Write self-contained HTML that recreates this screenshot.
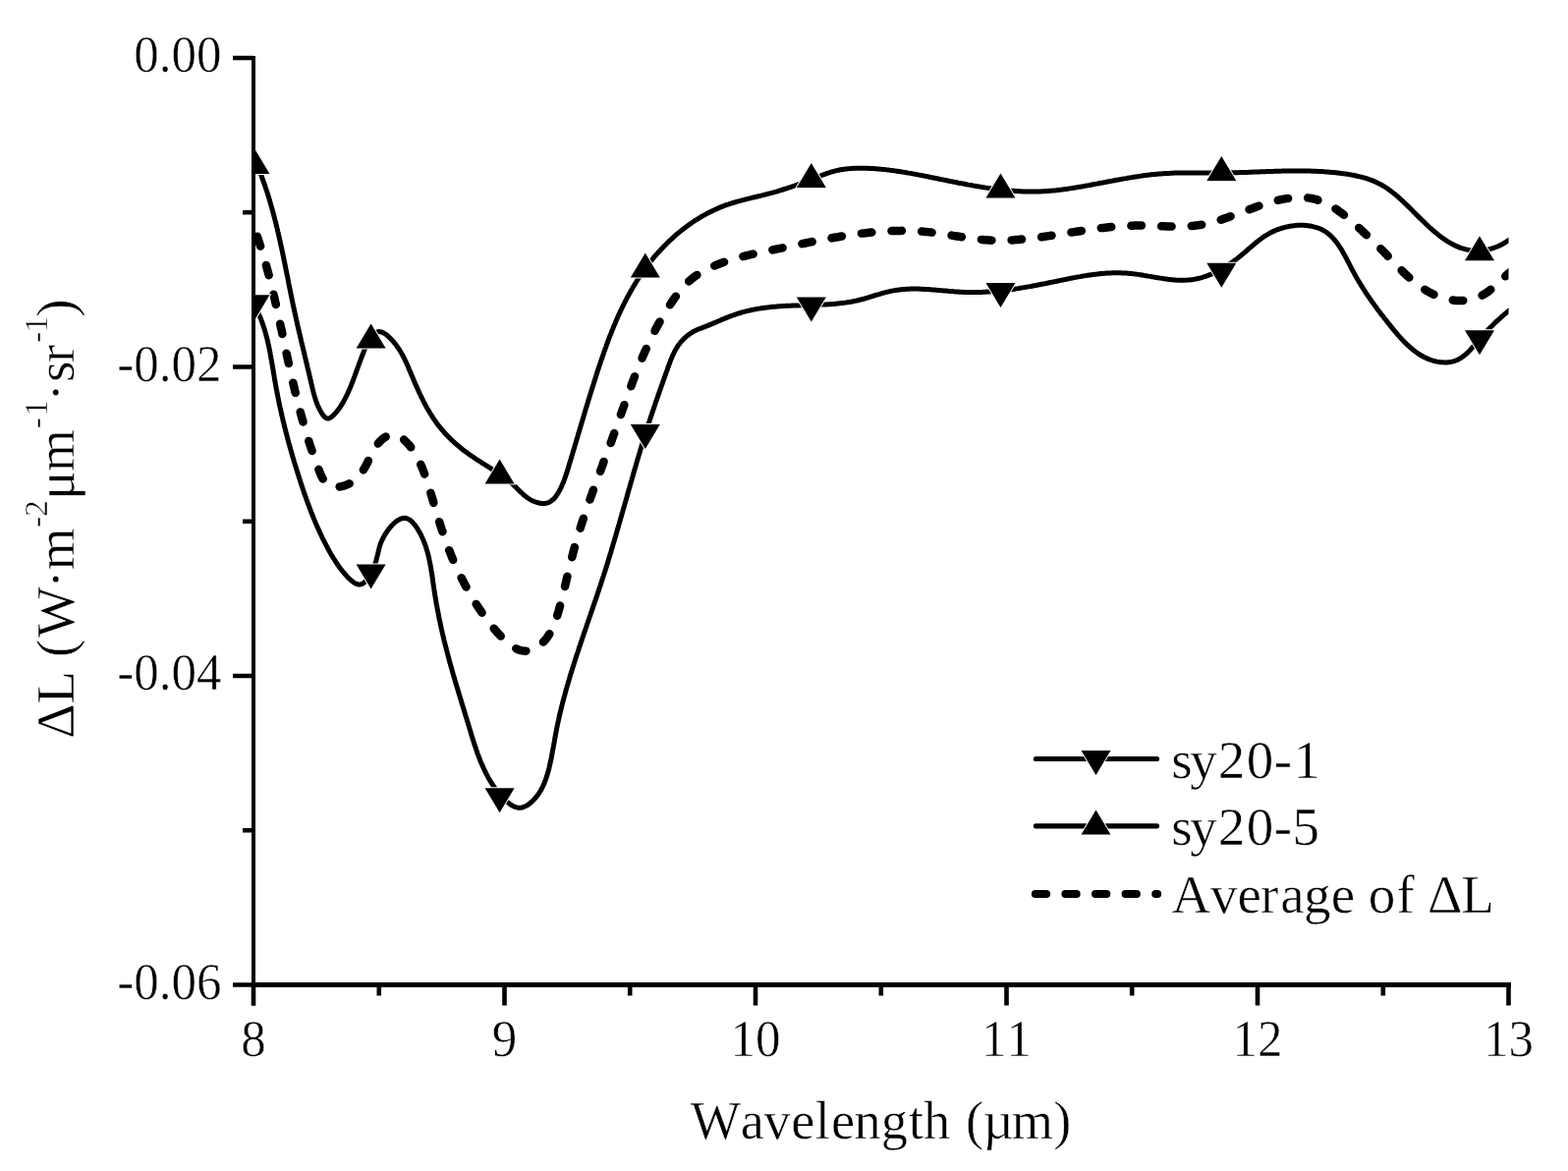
<!DOCTYPE html>
<html><head><meta charset="utf-8"><style>
html,body{margin:0;padding:0;background:#fff;}
body{width:1596px;height:1192px;overflow:hidden;}
svg{display:block;}
text{font-family:"Liberation Serif","Times New Roman",serif;fill:#000;font-kerning:none;stroke:#fff;stroke-width:0.5px;paint-order:fill;}
</style></head><body>
<svg width="1596" height="1192" viewBox="0 0 1596 1192">
<rect width="1596" height="1192" fill="#fff"/>
<defs><clipPath id="pc"><rect x="258" y="0" width="1277.5" height="1192"/></clipPath></defs>
<g clip-path="url(#pc)">
<path d="M258.2,160.0L259.0,161.8L259.8,163.6L260.6,165.5L261.4,167.3L262.2,169.1L262.9,171.0L263.7,172.8L264.4,174.7L265.1,176.6L265.9,178.4L266.6,180.3L267.2,182.2L267.9,184.0L268.6,185.9L269.3,187.8L269.9,189.7L270.5,191.6L271.2,193.5L271.8,195.3L272.4,197.2L273.0,199.1L273.6,201.1L274.2,203.0L274.7,204.9L275.3,206.8L275.8,208.7L276.4,210.6L276.9,212.5L277.5,214.5L278.0,216.4L278.5,218.3L279.0,220.3L279.5,222.2L280.0,224.1L280.5,226.1L281.0,228.0L281.4,229.9L281.9,231.9L282.4,233.8L282.8,235.8L283.3,237.7L283.7,239.7L284.2,241.6L284.6,243.6L285.1,245.5L285.5,247.5L285.9,249.4L286.3,251.4L286.8,253.4L287.2,255.3L287.6,257.3L288.0,259.2L288.4,261.2L288.8,263.2L289.2,265.1L289.6,267.1L290.0,269.1L290.4,271.0L290.8,273.0L291.2,274.9L291.6,276.9L292.0,278.9L292.4,280.8L292.8,282.8L293.2,284.8L293.6,286.7L293.9,288.7L294.3,290.7L294.7,292.6L295.1,294.6L295.5,296.5L295.9,298.5L296.3,300.5L296.7,302.4L297.1,304.4L297.5,306.3L297.9,308.3L298.3,310.2L298.7,312.2L299.2,314.1L299.6,316.1L300.0,318.0L300.4,320.0L300.9,321.9L301.3,323.9L301.7,325.8L302.2,327.7L302.6,329.7L303.0,331.6L303.5,333.6L303.9,335.5L304.4,337.4L304.8,339.4L305.3,341.3L305.7,343.2L306.2,345.2L306.6,347.1L307.1,349.1L307.6,351.0L308.0,352.9L308.5,354.9L309.0,356.8L309.4,358.7L309.9,360.7L310.3,362.6L310.8,364.6L311.3,366.5L311.7,368.5L312.2,370.4L312.7,372.4L313.1,374.3L313.6,376.3L314.1,378.3L314.5,380.2L315.0,382.2L315.4,384.2L315.9,386.1L316.4,388.1L316.8,390.1L317.3,392.1L317.7,394.0L318.2,396.0L318.7,398.0L319.2,400.0L319.7,401.9L320.3,403.9L320.9,405.8L321.5,407.8L322.2,409.7L322.9,411.6L323.7,413.4L324.6,415.3L325.5,417.1L326.5,418.9L327.5,420.7L328.7,422.4L329.9,423.9L331.2,425.1L332.6,425.9L334.0,426.1L335.4,425.7L336.8,424.9L338.2,423.8L339.6,422.5L340.9,421.1L342.2,419.7L343.5,418.1L344.7,416.5L345.9,414.9L347.0,413.2L348.1,411.4L349.2,409.6L350.2,407.8L351.2,405.9L352.1,404.1L353.1,402.2L354.0,400.2L354.8,398.3L355.7,396.4L356.5,394.5L357.3,392.6L358.0,390.7L358.7,388.8L359.5,387.0L360.1,385.2L360.8,383.4L361.4,381.7L362.1,379.9L362.7,378.2L363.3,376.5L364.0,374.7L364.6,373.0L365.2,371.2L365.9,369.4L366.6,367.5L367.3,365.7L368.0,363.7L368.8,361.7L369.6,359.7L370.4,357.6L371.3,355.4L372.2,353.3L373.1,351.2L374.1,349.1L375.2,347.1L376.3,345.2L377.4,343.5L378.6,341.9L379.8,340.6L381.1,339.4L382.4,338.5L383.8,337.9L385.2,337.6L386.7,337.7L388.3,338.0L389.8,338.6L391.4,339.5L393.0,340.5L394.5,341.8L396.1,343.2L397.6,344.7L399.1,346.3L400.5,347.9L401.9,349.6L403.2,351.3L404.4,353.0L405.6,354.7L406.7,356.4L407.8,358.1L408.8,359.9L409.8,361.6L410.7,363.4L411.6,365.1L412.4,366.9L413.3,368.7L414.1,370.5L414.9,372.3L415.7,374.1L416.4,375.9L417.2,377.7L418.0,379.5L418.7,381.3L419.5,383.2L420.3,385.0L421.0,386.8L421.8,388.7L422.6,390.5L423.4,392.3L424.2,394.2L425.1,396.0L425.9,397.9L426.7,399.7L427.6,401.5L428.5,403.3L429.4,405.1L430.3,407.0L431.2,408.8L432.1,410.5L433.0,412.3L434.0,414.1L435.0,415.9L436.0,417.6L437.0,419.3L438.0,421.0L439.1,422.7L440.2,424.4L441.3,426.1L442.4,427.7L443.6,429.4L444.7,431.0L445.9,432.6L447.1,434.1L448.4,435.7L449.6,437.2L450.9,438.7L452.2,440.2L453.6,441.7L454.9,443.1L456.3,444.5L457.7,445.9L459.1,447.3L460.6,448.7L462.0,450.0L463.5,451.3L465.0,452.7L466.5,453.9L468.0,455.2L469.6,456.5L471.1,457.7L472.7,458.9L474.3,460.1L475.9,461.3L477.5,462.5L479.2,463.6L480.8,464.7L482.5,465.9L484.1,467.0L485.8,468.1L487.5,469.2L489.2,470.2L490.9,471.3L492.6,472.4L494.3,473.5L496.0,474.5L497.7,475.6L499.4,476.7L501.1,477.8L502.8,478.8L504.4,479.9L506.1,481.0L507.8,482.2L509.4,483.3L511.0,484.4L512.6,485.6L514.2,486.8L515.8,487.9L517.3,489.2L518.9,490.4L520.4,491.7L521.9,492.9L523.3,494.3L524.7,495.6L526.1,497.0L527.5,498.4L528.9,499.8L530.3,501.1L531.8,502.5L533.2,503.8L534.8,505.1L536.4,506.4L538.1,507.5L539.8,508.6L541.7,509.6L543.7,510.5L545.7,511.2L547.8,511.8L549.8,512.3L551.8,512.5L553.8,512.5L555.7,512.3L557.5,511.9L559.2,511.2L560.8,510.2L562.3,509.1L563.7,507.8L565.0,506.3L566.2,504.7L567.3,503.0L568.4,501.2L569.4,499.4L570.4,497.6L571.3,495.8L572.1,493.9L572.9,492.1L573.7,490.2L574.4,488.3L575.1,486.4L575.7,484.5L576.4,482.7L577.0,480.8L577.6,478.9L578.2,477.0L578.8,475.1L579.3,473.1L579.9,471.2L580.5,469.3L581.1,467.4L581.6,465.5L582.2,463.6L582.8,461.7L583.3,459.8L583.9,457.9L584.5,456.0L585.0,454.1L585.6,452.1L586.2,450.2L586.7,448.3L587.3,446.4L587.9,444.5L588.4,442.6L589.0,440.7L589.6,438.8L590.1,436.8L590.7,434.9L591.3,433.0L591.8,431.1L592.4,429.2L593.0,427.3L593.6,425.4L594.1,423.4L594.7,421.5L595.3,419.6L595.8,417.7L596.4,415.8L597.0,413.9L597.6,412.0L598.2,410.1L598.7,408.2L599.3,406.2L599.9,404.3L600.5,402.4L601.1,400.5L601.7,398.6L602.3,396.7L602.9,394.8L603.5,392.9L604.1,391.0L604.7,389.1L605.3,387.2L605.9,385.3L606.5,383.4L607.1,381.4L607.7,379.5L608.3,377.6L609.0,375.7L609.6,373.8L610.2,371.9L610.9,370.0L611.5,368.1L612.1,366.3L612.8,364.4L613.4,362.5L614.1,360.6L614.7,358.7L615.4,356.8L616.1,354.9L616.8,353.0L617.4,351.2L618.1,349.3L618.8,347.4L619.5,345.5L620.2,343.7L620.9,341.8L621.7,339.9L622.4,338.1L623.1,336.2L623.9,334.4L624.6,332.5L625.4,330.7L626.2,328.9L626.9,327.0L627.7,325.2L628.5,323.4L629.3,321.6L630.1,319.8L631.0,317.9L631.8,316.1L632.7,314.3L633.5,312.6L634.4,310.8L635.3,309.0L636.2,307.2L637.1,305.5L638.0,303.7L638.9,301.9L639.9,300.2L640.8,298.5L641.8,296.7L642.8,295.0L643.8,293.3L644.8,291.6L645.8,289.9L646.8,288.2L647.9,286.5L648.9,284.8L650.0,283.1L651.1,281.5L652.2,279.8L653.3,278.2L654.5,276.5L655.6,274.9L656.8,273.3L658.0,271.7L659.2,270.1L660.4,268.5L661.6,266.9L662.9,265.3L664.2,263.8L665.4,262.2L666.7,260.7L668.1,259.2L669.4,257.7L670.7,256.2L672.1,254.7L673.5,253.2L674.9,251.7L676.3,250.3L677.7,248.9L679.1,247.4L680.6,246.0L682.0,244.6L683.5,243.3L685.0,241.9L686.5,240.6L688.0,239.2L689.5,237.9L691.1,236.6L692.6,235.4L694.2,234.1L695.8,232.9L697.4,231.7L699.0,230.5L700.6,229.3L702.3,228.1L703.9,227.0L705.6,225.8L707.2,224.7L708.9,223.7L710.6,222.6L712.3,221.6L714.0,220.5L715.8,219.5L717.5,218.6L719.2,217.6L721.0,216.7L722.8,215.8L724.6,214.9L726.4,214.0L728.2,213.2L730.0,212.4L731.8,211.6L733.6,210.8L735.5,210.1L737.3,209.4L739.2,208.7L741.1,208.1L743.0,207.4L744.9,206.8L746.7,206.2L748.7,205.7L750.6,205.1L752.5,204.6L754.4,204.1L756.3,203.6L758.3,203.1L760.2,202.6L762.1,202.1L764.1,201.7L766.0,201.2L768.0,200.7L769.9,200.3L771.9,199.8L773.8,199.4L775.7,198.9L777.7,198.4L779.6,197.9L781.5,197.4L783.5,196.9L785.4,196.4L787.3,195.8L789.2,195.3L791.1,194.8L793.0,194.2L794.9,193.6L796.8,193.0L798.7,192.4L800.6,191.8L802.5,191.2L804.4,190.6L806.3,189.9L808.2,189.3L810.1,188.6L812.0,188.0L813.8,187.3L815.7,186.6L817.6,185.9L819.5,185.2L821.4,184.5L823.2,183.7L825.1,183.0L827.0,182.3L828.8,181.5L830.7,180.8L832.6,180.0L834.4,179.3L836.3,178.5L838.2,177.8L840.1,177.1L842.0,176.4L843.9,175.8L845.8,175.2L847.7,174.6L849.6,174.1L851.5,173.6L853.5,173.2L855.4,172.8L857.4,172.5L859.3,172.2L861.3,171.9L863.3,171.7L865.2,171.6L867.2,171.4L869.2,171.3L871.2,171.2L873.2,171.2L875.2,171.2L877.2,171.2L879.2,171.2L881.2,171.2L883.2,171.3L885.1,171.4L887.1,171.5L889.1,171.6L891.1,171.7L893.1,171.9L895.1,172.1L897.0,172.2L899.0,172.4L901.0,172.6L903.0,172.9L904.9,173.1L906.9,173.4L908.9,173.6L910.8,173.9L912.8,174.2L914.8,174.5L916.7,174.8L918.7,175.1L920.7,175.4L922.6,175.7L924.6,176.1L926.6,176.4L928.5,176.8L930.5,177.1L932.5,177.5L934.4,177.9L936.4,178.2L938.4,178.6L940.3,179.0L942.3,179.4L944.2,179.8L946.2,180.2L948.2,180.6L950.1,181.0L952.1,181.4L954.1,181.8L956.0,182.2L958.0,182.6L960.0,183.0L962.0,183.4L963.9,183.8L965.9,184.2L967.9,184.6L969.9,185.0L971.8,185.4L973.8,185.8L975.8,186.2L977.8,186.5L979.7,186.9L981.7,187.3L983.7,187.7L985.7,188.1L987.6,188.4L989.6,188.8L991.6,189.1L993.6,189.5L995.6,189.8L997.5,190.1L999.5,190.5L1001.5,190.8L1003.5,191.1L1005.5,191.4L1007.4,191.7L1009.4,192.0L1011.4,192.2L1013.4,192.5L1015.4,192.7L1017.4,193.0L1019.3,193.2L1021.3,193.4L1023.3,193.6L1025.3,193.8L1027.3,194.0L1029.3,194.2L1031.2,194.3L1033.2,194.5L1035.2,194.6L1037.2,194.7L1039.2,194.8L1041.2,194.9L1043.1,194.9L1045.1,195.0L1047.1,195.0L1049.1,195.0L1051.1,195.0L1053.1,195.0L1055.0,195.0L1057.0,194.9L1059.0,194.9L1061.0,194.8L1063.0,194.7L1065.0,194.5L1066.9,194.4L1068.9,194.2L1070.9,194.1L1072.9,193.9L1074.9,193.7L1076.8,193.4L1078.8,193.2L1080.8,193.0L1082.8,192.7L1084.8,192.4L1086.7,192.2L1088.7,191.9L1090.7,191.6L1092.7,191.3L1094.7,191.0L1096.6,190.6L1098.6,190.3L1100.6,190.0L1102.6,189.6L1104.5,189.3L1106.5,188.9L1108.5,188.6L1110.5,188.2L1112.4,187.8L1114.4,187.4L1116.4,187.1L1118.4,186.7L1120.3,186.3L1122.3,186.0L1124.3,185.6L1126.2,185.2L1128.2,184.8L1130.2,184.5L1132.2,184.1L1134.1,183.7L1136.1,183.3L1138.1,183.0L1140.0,182.6L1142.0,182.3L1144.0,181.9L1146.0,181.6L1147.9,181.2L1149.9,180.9L1151.9,180.6L1153.8,180.3L1155.8,180.0L1157.8,179.7L1159.8,179.4L1161.7,179.1L1163.7,178.8L1165.7,178.5L1167.7,178.3L1169.7,178.1L1171.6,177.8L1173.6,177.6L1175.6,177.4L1177.6,177.2L1179.6,177.0L1181.6,176.9L1183.6,176.7L1185.5,176.6L1187.5,176.5L1189.5,176.4L1191.5,176.3L1193.5,176.2L1195.5,176.1L1197.5,176.1L1199.5,176.0L1201.5,176.0L1203.5,176.0L1205.5,175.9L1207.5,175.9L1209.5,175.9L1211.5,175.9L1213.5,175.9L1215.5,175.9L1217.5,175.9L1219.5,175.9L1221.5,175.9L1223.6,176.0L1225.6,176.0L1227.6,176.0L1229.6,176.0L1231.6,176.0L1233.6,176.0L1235.6,176.0L1237.6,176.0L1239.6,176.0L1241.6,176.0L1243.6,176.0L1245.6,176.0L1247.6,175.9L1249.6,175.9L1251.6,175.9L1253.6,175.8L1255.6,175.8L1257.6,175.7L1259.6,175.7L1261.6,175.6L1263.6,175.6L1265.6,175.5L1267.6,175.4L1269.6,175.4L1271.6,175.3L1273.6,175.2L1275.6,175.1L1277.6,175.1L1279.6,175.0L1281.6,174.9L1283.6,174.8L1285.6,174.8L1287.6,174.7L1289.6,174.6L1291.6,174.5L1293.6,174.5L1295.6,174.4L1297.6,174.3L1299.6,174.3L1301.6,174.2L1303.6,174.2L1305.6,174.1L1307.6,174.1L1309.5,174.1L1311.5,174.0L1313.5,174.0L1315.5,174.0L1317.5,174.0L1319.5,173.9L1321.5,173.9L1323.5,174.0L1325.5,174.0L1327.5,174.0L1329.5,174.0L1331.5,174.1L1333.5,174.1L1335.5,174.2L1337.5,174.2L1339.5,174.3L1341.5,174.4L1343.5,174.5L1345.5,174.6L1347.5,174.7L1349.5,174.9L1351.5,175.0L1353.5,175.2L1355.5,175.4L1357.5,175.6L1359.5,175.8L1361.5,176.0L1363.5,176.2L1365.5,176.5L1367.5,176.7L1369.5,177.0L1371.5,177.3L1373.5,177.6L1375.5,178.0L1377.5,178.3L1379.4,178.7L1381.4,179.2L1383.3,179.6L1385.3,180.1L1387.2,180.6L1389.1,181.1L1391.0,181.7L1392.8,182.3L1394.7,183.0L1396.5,183.7L1398.3,184.4L1400.1,185.2L1401.8,186.0L1403.6,186.9L1405.3,187.8L1407.0,188.7L1408.6,189.7L1410.3,190.7L1411.9,191.8L1413.5,192.9L1415.0,194.0L1416.6,195.2L1418.1,196.4L1419.7,197.6L1421.2,198.9L1422.7,200.2L1424.2,201.5L1425.6,202.8L1427.1,204.1L1428.6,205.5L1430.0,206.9L1431.5,208.3L1432.9,209.7L1434.4,211.1L1435.8,212.5L1437.3,214.0L1438.7,215.4L1440.2,216.9L1441.6,218.4L1443.1,219.8L1444.5,221.3L1446.0,222.7L1447.5,224.2L1449.0,225.6L1450.5,227.1L1452.0,228.5L1453.5,230.0L1455.0,231.4L1456.6,232.8L1458.2,234.1L1459.7,235.5L1461.3,236.8L1462.9,238.1L1464.5,239.4L1466.1,240.7L1467.8,241.9L1469.4,243.1L1471.1,244.2L1472.8,245.3L1474.5,246.3L1476.2,247.3L1477.9,248.3L1479.6,249.2L1481.4,250.1L1483.2,250.9L1484.9,251.6L1486.7,252.3L1488.6,252.9L1490.4,253.4L1492.2,253.9L1494.1,254.3L1496.0,254.6L1497.8,254.9L1499.8,255.1L1501.7,255.2L1503.6,255.2L1505.5,255.2L1507.5,255.1L1509.4,254.9L1511.3,254.6L1513.3,254.3L1515.2,253.8L1517.1,253.4L1519.0,252.8L1520.9,252.2L1522.8,251.5L1524.7,250.7L1526.5,249.9L1528.3,249.0L1530.1,248.0L1531.9,247.0L1533.6,245.9L1535.3,244.7L1537.0,243.5L1538.7,242.2L1540.3,240.9L1541.8,239.4L1543.3,237.9L1544.8,236.4" fill="none" stroke="#000" stroke-width="5" stroke-linejoin="round"/>
<path d="M259.5,311.7L260.4,313.5L261.3,315.3L262.2,317.1L263.0,318.9L263.8,320.7L264.6,322.5L265.4,324.3L266.1,326.2L266.8,328.0L267.4,329.9L268.1,331.8L268.7,333.7L269.3,335.5L269.8,337.4L270.4,339.4L270.9,341.3L271.4,343.2L271.9,345.1L272.4,347.1L272.8,349.0L273.2,350.9L273.7,352.9L274.1,354.8L274.5,356.8L274.9,358.8L275.2,360.7L275.6,362.7L275.9,364.7L276.3,366.7L276.6,368.6L277.0,370.6L277.3,372.6L277.6,374.6L278.0,376.6L278.3,378.6L278.6,380.5L279.0,382.5L279.3,384.5L279.6,386.5L280.0,388.5L280.3,390.4L280.7,392.4L281.0,394.4L281.4,396.4L281.8,398.3L282.1,400.3L282.5,402.3L282.9,404.2L283.3,406.2L283.7,408.2L284.1,410.1L284.5,412.1L284.9,414.0L285.4,416.0L285.8,417.9L286.2,419.9L286.7,421.8L287.1,423.8L287.6,425.7L288.0,427.7L288.5,429.6L289.0,431.5L289.4,433.5L289.9,435.4L290.4,437.4L290.9,439.3L291.4,441.2L291.9,443.2L292.4,445.1L292.9,447.0L293.4,448.9L293.9,450.9L294.5,452.8L295.0,454.7L295.5,456.6L296.1,458.5L296.6,460.5L297.2,462.4L297.7,464.3L298.3,466.2L298.9,468.1L299.4,470.0L300.0,471.9L300.6,473.9L301.2,475.8L301.8,477.7L302.4,479.6L303.0,481.5L303.6,483.4L304.2,485.3L304.8,487.2L305.4,489.1L306.0,491.0L306.6,492.9L307.3,494.8L307.9,496.7L308.5,498.6L309.2,500.5L309.8,502.4L310.5,504.3L311.2,506.2L311.8,508.0L312.5,509.9L313.2,511.8L313.9,513.7L314.6,515.6L315.3,517.4L316.0,519.3L316.7,521.2L317.5,523.0L318.2,524.9L318.9,526.7L319.7,528.6L320.5,530.4L321.2,532.2L322.0,534.1L322.8,535.9L323.6,537.7L324.5,539.5L325.3,541.4L326.1,543.2L327.0,545.0L327.8,546.8L328.7,548.6L329.6,550.3L330.5,552.1L331.4,553.9L332.3,555.6L333.2,557.4L334.2,559.2L335.1,560.9L336.1,562.6L337.1,564.4L338.1,566.1L339.1,567.8L340.2,569.5L341.3,571.2L342.4,572.9L343.5,574.5L344.6,576.2L345.8,577.8L347.1,579.5L348.3,581.1L349.7,582.7L351.0,584.3L352.4,585.8L353.8,587.4L355.3,588.9L356.9,590.3L358.4,591.7L360.0,592.8L361.5,593.8L363.1,594.5L364.6,594.9L366.1,594.9L367.6,594.7L369.1,594.1L370.5,593.2L371.9,592.0L373.2,590.6L374.5,589.0L375.7,587.3L376.8,585.4L377.9,583.4L378.9,581.3L379.8,579.2L380.7,577.1L381.5,575.0L382.2,572.9L382.8,570.9L383.3,569.0L383.7,567.2L384.2,565.4L384.6,563.7L385.0,562.0L385.4,560.3L385.8,558.6L386.3,556.9L386.8,555.1L387.4,553.4L388.1,551.5L389.0,549.7L389.9,547.7L391.0,545.8L392.1,543.8L393.4,541.8L394.7,539.9L396.2,538.0L397.6,536.2L399.2,534.5L400.7,533.0L402.3,531.5L404.0,530.3L405.6,529.2L407.2,528.4L408.9,527.8L410.5,527.4L412.1,527.3L413.6,527.6L415.1,528.1L416.6,528.9L418.0,529.9L419.4,531.2L420.7,532.6L422.0,534.1L423.2,535.7L424.4,537.4L425.5,539.2L426.5,540.9L427.5,542.7L428.5,544.5L429.3,546.3L430.2,548.2L431.0,550.0L431.7,551.9L432.4,553.7L433.1,555.6L433.7,557.5L434.3,559.4L434.9,561.3L435.4,563.2L435.9,565.2L436.4,567.1L436.8,569.1L437.2,571.0L437.6,573.0L438.0,575.0L438.4,576.9L438.7,578.9L439.0,580.9L439.4,582.9L439.7,584.9L440.0,586.9L440.2,588.9L440.5,590.9L440.8,592.8L441.1,594.8L441.4,596.8L441.7,598.8L442.0,600.8L442.3,602.8L442.6,604.8L442.9,606.8L443.2,608.8L443.6,610.7L443.9,612.7L444.2,614.7L444.6,616.7L445.0,618.6L445.3,620.6L445.7,622.6L446.1,624.5L446.5,626.5L446.8,628.4L447.2,630.4L447.7,632.3L448.1,634.3L448.5,636.3L448.9,638.2L449.3,640.1L449.8,642.1L450.2,644.0L450.7,646.0L451.1,647.9L451.6,649.9L452.0,651.8L452.5,653.7L453.0,655.7L453.5,657.6L454.0,659.5L454.5,661.5L455.0,663.4L455.5,665.3L456.0,667.3L456.5,669.2L457.0,671.1L457.5,673.0L458.1,675.0L458.6,676.9L459.1,678.8L459.7,680.7L460.2,682.7L460.8,684.6L461.3,686.5L461.9,688.4L462.4,690.3L463.0,692.3L463.6,694.2L464.1,696.1L464.7,698.0L465.3,699.9L465.9,701.8L466.4,703.8L467.0,705.7L467.6,707.6L468.2,709.5L468.8,711.4L469.3,713.3L469.9,715.3L470.5,717.2L471.1,719.1L471.7,721.0L472.3,722.9L472.8,724.8L473.4,726.7L474.0,728.7L474.6,730.6L475.2,732.5L475.8,734.4L476.4,736.3L476.9,738.2L477.5,740.1L478.1,742.1L478.7,744.0L479.3,745.9L479.8,747.8L480.4,749.7L481.0,751.6L481.6,753.5L482.2,755.4L482.8,757.3L483.4,759.2L484.1,761.1L484.7,763.0L485.4,764.9L486.0,766.8L486.7,768.7L487.4,770.5L488.1,772.4L488.8,774.2L489.6,776.1L490.4,777.9L491.1,779.7L492.0,781.5L492.8,783.3L493.7,785.1L494.5,786.9L495.5,788.7L496.4,790.5L497.4,792.2L498.4,793.9L499.4,795.7L500.5,797.4L501.6,799.1L502.7,800.7L503.9,802.4L505.1,804.0L506.4,805.7L507.7,807.3L509.0,808.9L510.4,810.5L511.8,812.0L513.2,813.5L514.7,815.0L516.3,816.4L517.8,817.6L519.4,818.8L521.0,819.8L522.7,820.7L524.3,821.4L526.0,821.9L527.7,822.2L529.4,822.2L531.2,822.0L532.9,821.5L534.6,820.8L536.3,819.9L538.0,818.8L539.6,817.5L541.2,816.2L542.8,814.7L544.2,813.1L545.6,811.5L546.9,809.9L548.1,808.2L549.2,806.5L550.3,804.8L551.3,803.0L552.2,801.2L553.0,799.4L553.9,797.6L554.6,795.7L555.3,793.8L556.0,791.9L556.6,790.0L557.2,788.1L557.7,786.2L558.3,784.2L558.8,782.3L559.2,780.3L559.7,778.4L560.1,776.4L560.6,774.4L561.0,772.5L561.4,770.5L561.7,768.5L562.1,766.6L562.5,764.6L562.9,762.6L563.2,760.6L563.6,758.7L563.9,756.7L564.3,754.7L564.6,752.7L565.0,750.8L565.3,748.8L565.7,746.8L566.1,744.8L566.4,742.9L566.8,740.9L567.2,739.0L567.6,737.0L568.0,735.0L568.5,733.1L568.9,731.1L569.3,729.2L569.8,727.2L570.2,725.3L570.7,723.4L571.2,721.4L571.6,719.5L572.1,717.6L572.6,715.6L573.1,713.7L573.6,711.8L574.1,709.8L574.7,707.9L575.2,706.0L575.7,704.1L576.2,702.1L576.8,700.2L577.3,698.3L577.9,696.4L578.4,694.5L579.0,692.6L579.6,690.7L580.1,688.8L580.7,686.8L581.3,684.9L581.9,683.0L582.5,681.1L583.1,679.2L583.7,677.3L584.3,675.4L584.9,673.5L585.5,671.6L586.1,669.7L586.7,667.8L587.3,665.9L588.0,664.0L588.6,662.2L589.2,660.3L589.8,658.4L590.5,656.5L591.1,654.6L591.8,652.7L592.4,650.8L593.0,648.9L593.7,647.0L594.3,645.1L595.0,643.2L595.6,641.4L596.3,639.5L596.9,637.6L597.5,635.7L598.2,633.8L598.8,631.9L599.5,630.0L600.1,628.1L600.8,626.3L601.4,624.4L602.1,622.5L602.7,620.6L603.4,618.7L604.0,616.8L604.7,614.9L605.3,613.0L606.0,611.1L606.6,609.3L607.3,607.4L607.9,605.5L608.5,603.6L609.2,601.7L609.8,599.8L610.4,597.9L611.1,596.0L611.7,594.1L612.3,592.2L612.9,590.3L613.5,588.4L614.2,586.5L614.8,584.6L615.4,582.7L616.0,580.8L616.6,578.9L617.2,577.0L617.8,575.1L618.4,573.2L619.0,571.3L619.5,569.3L620.1,567.4L620.7,565.5L621.3,563.6L621.9,561.7L622.4,559.8L623.0,557.9L623.6,556.0L624.1,554.0L624.7,552.1L625.3,550.2L625.8,548.3L626.4,546.4L627.0,544.5L627.5,542.5L628.1,540.6L628.6,538.7L629.2,536.8L629.7,534.9L630.3,532.9L630.8,531.0L631.4,529.1L631.9,527.2L632.5,525.2L633.0,523.3L633.6,521.4L634.1,519.5L634.7,517.6L635.2,515.6L635.8,513.7L636.3,511.8L636.9,509.9L637.4,507.9L638.0,506.0L638.5,504.1L639.0,502.2L639.6,500.3L640.1,498.3L640.7,496.4L641.2,494.5L641.8,492.6L642.3,490.7L642.9,488.7L643.4,486.8L644.0,484.9L644.5,483.0L645.1,481.1L645.6,479.1L646.2,477.2L646.8,475.3L647.3,473.4L647.9,471.5L648.4,469.5L649.0,467.6L649.6,465.7L650.1,463.8L650.7,461.9L651.3,460.0L651.8,458.1L652.4,456.2L653.0,454.2L653.6,452.3L654.2,450.4L654.7,448.5L655.3,446.6L655.9,444.7L656.5,442.8L657.1,440.9L657.7,439.0L658.3,437.1L658.9,435.2L659.5,433.3L660.1,431.4L660.8,429.5L661.4,427.6L662.0,425.7L662.6,423.8L663.3,421.9L663.9,420.0L664.5,418.1L665.2,416.3L665.8,414.4L666.5,412.5L667.1,410.6L667.7,408.7L668.4,406.8L669.1,404.9L669.7,403.1L670.4,401.2L671.0,399.3L671.7,397.4L672.4,395.5L673.0,393.6L673.7,391.7L674.4,389.8L675.0,388.0L675.7,386.1L676.4,384.2L677.0,382.3L677.7,380.4L678.4,378.5L679.1,376.6L679.7,374.7L680.4,372.8L681.1,370.9L681.8,369.0L682.5,367.1L683.3,365.3L684.0,363.4L684.8,361.6L685.7,359.8L686.5,358.0L687.5,356.3L688.5,354.6L689.5,352.9L690.6,351.2L691.8,349.7L693.0,348.1L694.4,346.6L695.7,345.2L697.2,343.8L698.7,342.4L700.3,341.2L701.9,340.0L703.6,338.9L705.3,337.8L707.0,336.9L708.8,336.0L710.6,335.2L712.5,334.5L714.3,333.8L716.2,333.1L718.0,332.4L719.9,331.7L721.8,330.9L723.6,330.1L725.5,329.4L727.3,328.6L729.2,327.8L731.0,327.0L732.9,326.2L734.7,325.4L736.6,324.7L738.5,323.9L740.3,323.1L742.2,322.4L744.1,321.7L745.9,321.0L747.8,320.3L749.7,319.7L751.6,319.0L753.5,318.5L755.4,317.9L757.4,317.4L759.3,316.9L761.2,316.4L763.2,316.0L765.1,315.5L767.1,315.1L769.0,314.8L771.0,314.4L772.9,314.1L774.9,313.8L776.9,313.5L778.8,313.2L780.8,313.0L782.8,312.8L784.8,312.5L786.8,312.3L788.8,312.2L790.8,312.0L792.8,311.8L794.8,311.7L796.8,311.6L798.8,311.5L800.8,311.3L802.8,311.2L804.8,311.2L806.8,311.1L808.8,311.0L810.8,310.9L812.8,310.9L814.8,310.8L816.8,310.7L818.8,310.7L820.8,310.6L822.8,310.6L824.8,310.5L826.8,310.5L828.8,310.4L830.8,310.3L832.8,310.3L834.8,310.2L836.8,310.1L838.7,310.0L840.7,309.9L842.7,309.8L844.7,309.7L846.7,309.5L848.6,309.4L850.6,309.2L852.6,309.0L854.5,308.8L856.5,308.6L858.5,308.4L860.4,308.1L862.4,307.8L864.4,307.5L866.3,307.2L868.3,306.8L870.2,306.4L872.2,306.0L874.1,305.5L876.1,305.0L878.0,304.5L880.0,304.0L881.9,303.4L883.9,302.8L885.8,302.2L887.8,301.6L889.7,301.0L891.6,300.4L893.6,299.8L895.5,299.3L897.5,298.7L899.4,298.1L901.4,297.6L903.3,297.1L905.3,296.7L907.2,296.2L909.2,295.9L911.2,295.5L913.1,295.2L915.1,295.0L917.1,294.7L919.1,294.5L921.0,294.4L923.0,294.3L925.0,294.2L927.0,294.1L929.0,294.1L931.0,294.1L933.0,294.1L934.9,294.1L936.9,294.2L938.9,294.3L940.9,294.4L942.9,294.5L944.9,294.6L946.9,294.7L948.9,294.9L950.9,295.0L952.9,295.2L954.9,295.4L956.9,295.6L958.9,295.7L960.9,295.9L963.0,296.1L965.0,296.3L967.0,296.4L969.0,296.6L971.0,296.8L973.0,296.9L975.0,297.0L977.0,297.2L979.0,297.3L981.0,297.4L983.0,297.4L985.0,297.5L987.0,297.5L989.0,297.6L991.0,297.6L993.0,297.6L995.0,297.5L996.9,297.5L998.9,297.4L1000.9,297.3L1002.9,297.2L1004.9,297.1L1006.9,297.0L1008.9,296.8L1010.9,296.7L1012.9,296.5L1014.8,296.3L1016.8,296.1L1018.8,295.9L1020.8,295.7L1022.8,295.5L1024.7,295.2L1026.7,295.0L1028.7,294.7L1030.7,294.4L1032.6,294.2L1034.6,293.9L1036.6,293.6L1038.6,293.2L1040.5,292.9L1042.5,292.6L1044.5,292.3L1046.4,291.9L1048.4,291.6L1050.4,291.2L1052.3,290.8L1054.3,290.5L1056.2,290.1L1058.2,289.7L1060.2,289.3L1062.1,289.0L1064.1,288.6L1066.0,288.2L1068.0,287.8L1069.9,287.4L1071.9,287.0L1073.9,286.6L1075.8,286.2L1077.8,285.8L1079.7,285.4L1081.7,285.0L1083.6,284.6L1085.6,284.2L1087.5,283.8L1089.5,283.4L1091.4,283.0L1093.4,282.6L1095.3,282.3L1097.2,281.9L1099.2,281.6L1101.1,281.2L1103.1,280.9L1105.1,280.6L1107.0,280.3L1109.0,280.0L1110.9,279.7L1112.9,279.4L1114.8,279.2L1116.8,279.0L1118.8,278.7L1120.7,278.5L1122.7,278.4L1124.7,278.2L1126.6,278.1L1128.6,278.0L1130.6,277.9L1132.5,277.8L1134.5,277.8L1136.5,277.8L1138.5,277.8L1140.5,277.8L1142.5,277.9L1144.5,278.0L1146.5,278.1L1148.5,278.2L1150.5,278.4L1152.5,278.6L1154.5,278.9L1156.5,279.1L1158.6,279.4L1160.6,279.7L1162.6,280.0L1164.6,280.4L1166.7,280.7L1168.7,281.1L1170.7,281.4L1172.7,281.8L1174.8,282.1L1176.8,282.5L1178.8,282.8L1180.8,283.1L1182.8,283.4L1184.9,283.7L1186.9,284.0L1188.9,284.3L1190.9,284.5L1192.9,284.7L1194.9,284.9L1196.9,285.1L1198.9,285.2L1200.8,285.2L1202.8,285.3L1204.8,285.3L1206.8,285.2L1208.7,285.1L1210.7,284.9L1212.6,284.7L1214.5,284.5L1216.5,284.1L1218.4,283.7L1220.3,283.3L1222.2,282.8L1224.0,282.3L1225.9,281.7L1227.8,281.1L1229.6,280.4L1231.5,279.7L1233.3,278.9L1235.1,278.1L1236.9,277.3L1238.7,276.4L1240.5,275.5L1242.2,274.5L1244.0,273.5L1245.7,272.5L1247.4,271.4L1249.1,270.4L1250.8,269.3L1252.5,268.1L1254.1,267.0L1255.8,265.8L1257.4,264.6L1259.0,263.4L1260.6,262.1L1262.2,260.9L1263.7,259.6L1265.2,258.3L1266.7,257.1L1268.2,255.8L1269.7,254.5L1271.2,253.2L1272.7,251.9L1274.2,250.6L1275.7,249.3L1277.2,248.0L1278.7,246.8L1280.2,245.6L1281.8,244.3L1283.3,243.2L1284.9,242.0L1286.5,240.9L1288.2,239.8L1289.9,238.8L1291.6,237.8L1293.3,236.8L1295.1,235.9L1297.0,235.1L1298.9,234.3L1300.8,233.5L1302.8,232.9L1304.7,232.2L1306.7,231.7L1308.8,231.1L1310.8,230.7L1312.9,230.3L1314.9,230.0L1317.0,229.7L1319.1,229.5L1321.2,229.3L1323.2,229.3L1325.3,229.3L1327.3,229.3L1329.3,229.5L1331.3,229.7L1333.3,230.0L1335.3,230.3L1337.2,230.8L1339.1,231.3L1340.9,231.9L1342.7,232.5L1344.5,233.3L1346.2,234.1L1347.8,235.0L1349.4,236.0L1351.0,237.1L1352.4,238.3L1353.9,239.5L1355.2,240.8L1356.6,242.2L1357.9,243.6L1359.1,245.1L1360.3,246.6L1361.5,248.2L1362.6,249.8L1363.7,251.5L1364.8,253.2L1365.9,254.9L1366.9,256.7L1367.9,258.5L1368.9,260.3L1369.9,262.1L1370.9,264.0L1371.8,265.8L1372.8,267.7L1373.7,269.5L1374.7,271.4L1375.6,273.2L1376.6,275.0L1377.6,276.8L1378.6,278.6L1379.5,280.4L1380.5,282.2L1381.5,283.9L1382.5,285.6L1383.6,287.3L1384.6,289.0L1385.6,290.7L1386.7,292.4L1387.7,294.1L1388.8,295.7L1389.8,297.3L1390.9,299.0L1392.0,300.6L1393.1,302.2L1394.2,303.8L1395.3,305.4L1396.4,307.0L1397.6,308.6L1398.7,310.2L1399.9,311.7L1401.0,313.3L1402.2,314.9L1403.4,316.5L1404.5,318.0L1405.7,319.6L1406.9,321.2L1408.2,322.7L1409.4,324.3L1410.6,325.8L1411.9,327.4L1413.1,329.0L1414.4,330.6L1415.6,332.1L1416.9,333.7L1418.2,335.3L1419.5,336.9L1420.8,338.4L1422.2,340.0L1423.5,341.6L1424.9,343.1L1426.2,344.6L1427.6,346.1L1429.0,347.6L1430.5,349.0L1431.9,350.5L1433.4,351.9L1434.9,353.2L1436.4,354.5L1437.9,355.8L1439.5,357.1L1441.1,358.3L1442.7,359.4L1444.3,360.5L1446.0,361.5L1447.7,362.5L1449.4,363.5L1451.2,364.3L1453.0,365.1L1454.8,365.9L1456.6,366.5L1458.5,367.1L1460.5,367.6L1462.4,368.1L1464.4,368.4L1466.3,368.7L1468.3,368.8L1470.3,368.9L1472.3,368.9L1474.3,368.7L1476.2,368.5L1478.1,368.1L1480.0,367.6L1481.8,367.0L1483.6,366.3L1485.3,365.4L1487.0,364.4L1488.6,363.3L1490.2,362.1L1491.7,360.8L1493.2,359.5L1494.7,358.1L1496.1,356.6L1497.5,355.0L1498.9,353.5L1500.3,351.9L1501.7,350.3L1503.0,348.7L1504.4,347.1L1505.7,345.5L1507.1,344.0L1508.4,342.5L1509.8,341.0L1511.1,339.5L1512.5,338.0L1513.8,336.6L1515.2,335.1L1516.6,333.7L1518.0,332.3L1519.4,331.0L1520.8,329.6L1522.2,328.2L1523.6,326.9L1525.0,325.6L1526.5,324.3L1527.9,323.0L1529.4,321.7L1530.9,320.4L1532.4,319.1L1533.9,317.8L1535.4,316.5L1537.0,315.3L1538.5,314.0L1540.1,312.7L1541.7,311.5L1543.4,310.2L1545.0,309.0" fill="none" stroke="#000" stroke-width="5" stroke-linejoin="round"/>
<path d="M259.0,232.7L259.7,234.5L260.3,236.4L261.0,238.2L261.6,240.1L262.3,242.0L262.9,243.8L263.5,245.7L264.1,247.6L264.7,249.5L265.4,251.3L265.9,253.2L266.5,255.1L267.1,257.0L267.7,258.9L268.3,260.8L268.8,262.7L269.4,264.6L269.9,266.6L270.5,268.5L271.0,270.4L271.5,272.3L272.0,274.2L272.6,276.2L273.1,278.1L273.6,280.0L274.1,281.9L274.6,283.9L275.1,285.8L275.6,287.8L276.0,289.7L276.5,291.6L277.0,293.6L277.5,295.5L277.9,297.5L278.4,299.4L278.9,301.4L279.3,303.3L279.8,305.3L280.2,307.2L280.7,309.2L281.1,311.2L281.6,313.1L282.0,315.1L282.4,317.0L282.9,319.0L283.3,321.0L283.7,322.9L284.2,324.9L284.6,326.8L285.0,328.8L285.4,330.8L285.8,332.7L286.3,334.7L286.7,336.7L287.1,338.6L287.5,340.6L287.9,342.5L288.4,344.5L288.8,346.5L289.2,348.4L289.6,350.4L290.0,352.3L290.4,354.3L290.9,356.3L291.3,358.2L291.7,360.2L292.1,362.1L292.6,364.1L293.0,366.0L293.4,368.0L293.8,369.9L294.3,371.9L294.7,373.8L295.1,375.8L295.6,377.7L296.0,379.6L296.4,381.6L296.9,383.5L297.3,385.5L297.8,387.4L298.2,389.3L298.7,391.3L299.1,393.2L299.6,395.1L300.0,397.1L300.5,399.0L301.0,400.9L301.4,402.9L301.9,404.8L302.4,406.7L302.9,408.6L303.4,410.6L303.9,412.5L304.4,414.4L304.9,416.3L305.4,418.3L305.9,420.2L306.4,422.1L306.9,424.0L307.5,426.0L308.0,427.9L308.6,429.8L309.1,431.7L309.7,433.7L310.2,435.6L310.8,437.5L311.3,439.4L311.9,441.3L312.5,443.3L313.1,445.2L313.7,447.1L314.3,449.0L314.9,451.0L315.5,452.9L316.2,454.8L316.8,456.7L317.5,458.6L318.1,460.6L318.8,462.5L319.4,464.4L320.1,466.3L320.8,468.3L321.5,470.2L322.2,472.1L322.9,474.0L323.6,475.9L324.4,477.9L325.1,479.8L325.9,481.7L326.7,483.5L327.5,485.3L328.4,487.0L329.4,488.6L330.5,490.1L331.7,491.5L332.9,492.7L334.3,493.7L335.9,494.5L337.5,495.1L339.3,495.5L341.3,495.7L343.3,495.7L345.4,495.5L347.5,495.1L349.6,494.6L351.7,494.0L353.7,493.2L355.6,492.3L357.4,491.2L359.1,490.1L360.7,489.0L362.2,487.7L363.6,486.3L365.0,484.9L366.3,483.4L367.5,481.8L368.6,480.1L369.8,478.4L370.8,476.7L371.9,474.9L372.9,473.0L373.9,471.1L374.8,469.2L375.8,467.3L376.8,465.3L377.7,463.4L378.7,461.5L379.7,459.6L380.8,457.7L381.8,455.9L383.0,454.2L384.1,452.5L385.3,450.9L386.6,449.5L388.0,448.1L389.4,446.8L390.9,445.7L392.5,444.7L394.1,443.9L395.8,443.2L397.5,442.8L399.2,442.6L400.9,442.6L402.6,442.9L404.3,443.4L406.0,444.1L407.6,445.0L409.2,446.1L410.8,447.3L412.3,448.7L413.7,450.1L415.1,451.6L416.5,453.1L417.8,454.7L419.0,456.4L420.2,458.1L421.3,459.8L422.4,461.5L423.5,463.3L424.5,465.2L425.5,467.0L426.4,468.9L427.3,470.7L428.1,472.6L429.0,474.5L429.8,476.4L430.5,478.3L431.3,480.2L432.0,482.1L432.7,484.0L433.4,485.9L434.0,487.8L434.6,489.7L435.3,491.6L435.9,493.5L436.5,495.4L437.0,497.3L437.6,499.2L438.2,501.1L438.7,503.0L439.3,504.8L439.9,506.7L440.4,508.6L441.0,510.5L441.5,512.4L442.1,514.3L442.6,516.2L443.2,518.1L443.8,520.0L444.4,521.9L444.9,523.8L445.5,525.8L446.1,527.7L446.7,529.6L447.3,531.5L447.9,533.4L448.5,535.3L449.1,537.2L449.7,539.1L450.4,541.0L451.0,542.9L451.7,544.8L452.3,546.7L453.0,548.6L453.6,550.5L454.3,552.4L455.0,554.3L455.7,556.2L456.4,558.0L457.1,559.9L457.9,561.8L458.6,563.7L459.4,565.5L460.1,567.4L460.9,569.2L461.7,571.1L462.5,572.9L463.3,574.8L464.1,576.6L464.9,578.4L465.8,580.3L466.6,582.1L467.5,583.9L468.4,585.7L469.3,587.5L470.2,589.3L471.1,591.1L472.0,592.8L472.9,594.6L473.9,596.4L474.8,598.1L475.8,599.9L476.8,601.6L477.7,603.3L478.7,605.0L479.7,606.8L480.7,608.5L481.8,610.1L482.8,611.8L483.8,613.5L484.9,615.2L485.9,616.8L487.0,618.5L488.1,620.1L489.2,621.7L490.3,623.3L491.4,624.9L492.5,626.5L493.6,628.1L494.8,629.7L496.0,631.3L497.2,632.9L498.4,634.4L499.7,636.0L501.0,637.6L502.3,639.2L503.6,640.8L505.0,642.4L506.5,644.1L507.9,645.7L509.5,647.3L511.0,648.9L512.6,650.5L514.2,652.1L515.9,653.6L517.5,655.0L519.2,656.3L520.9,657.6L522.7,658.7L524.4,659.8L526.2,660.7L528.0,661.4L529.7,662.0L531.5,662.4L533.3,662.6L535.1,662.7L536.9,662.5L538.7,662.2L540.5,661.7L542.2,661.1L543.9,660.3L545.6,659.4L547.2,658.3L548.8,657.2L550.4,655.9L551.9,654.6L553.3,653.2L554.7,651.7L556.0,650.1L557.2,648.5L558.3,646.9L559.4,645.2L560.4,643.4L561.3,641.7L562.2,639.9L563.1,638.0L563.9,636.2L564.6,634.3L565.3,632.4L566.0,630.4L566.6,628.5L567.2,626.5L567.8,624.6L568.4,622.6L568.9,620.7L569.5,618.7L570.0,616.7L570.5,614.8L571.1,612.8L571.6,610.8L572.1,608.9L572.6,606.9L573.1,604.9L573.5,603.0L574.0,601.0L574.5,599.1L575.0,597.1L575.4,595.2L575.9,593.2L576.4,591.3L576.8,589.3L577.3,587.4L577.7,585.4L578.2,583.5L578.7,581.5L579.1,579.6L579.6,577.7L580.1,575.7L580.5,573.8L581.0,571.9L581.5,569.9L582.0,568.0L582.5,566.1L583.0,564.1L583.5,562.2L584.0,560.3L584.5,558.4L585.0,556.5L585.6,554.5L586.1,552.6L586.7,550.7L587.2,548.8L587.8,546.9L588.4,545.0L588.9,543.1L589.5,541.2L590.1,539.3L590.7,537.4L591.3,535.5L591.9,533.6L592.5,531.7L593.1,529.8L593.8,527.9L594.4,526.0L595.0,524.1L595.7,522.3L596.3,520.4L597.0,518.5L597.6,516.6L598.3,514.7L598.9,512.8L599.6,510.9L600.3,509.1L600.9,507.2L601.6,505.3L602.3,503.4L603.0,501.5L603.6,499.7L604.3,497.8L605.0,495.9L605.7,494.0L606.4,492.2L607.1,490.3L607.8,488.4L608.5,486.5L609.2,484.7L609.9,482.8L610.6,480.9L611.3,479.0L612.0,477.1L612.7,475.3L613.4,473.4L614.0,471.5L614.7,469.6L615.4,467.8L616.1,465.9L616.8,464.0L617.5,462.1L618.2,460.3L618.9,458.4L619.6,456.5L620.3,454.6L621.0,452.7L621.7,450.8L622.4,449.0L623.0,447.1L623.7,445.2L624.4,443.3L625.1,441.4L625.7,439.5L626.4,437.6L627.1,435.7L627.8,433.9L628.4,432.0L629.1,430.1L629.8,428.2L630.4,426.3L631.1,424.4L631.7,422.5L632.4,420.6L633.1,418.7L633.7,416.8L634.4,415.0L635.1,413.1L635.7,411.2L636.4,409.3L637.1,407.4L637.8,405.5L638.4,403.6L639.1,401.8L639.8,399.9L640.5,398.0L641.2,396.1L641.9,394.2L642.6,392.4L643.3,390.5L644.0,388.6L644.7,386.8L645.4,384.9L646.1,383.0L646.8,381.2L647.5,379.3L648.3,377.4L649.0,375.6L649.8,373.7L650.5,371.9L651.3,370.0L652.0,368.2L652.8,366.4L653.6,364.5L654.3,362.7L655.1,360.9L655.9,359.0L656.7,357.2L657.6,355.4L658.4,353.6L659.2,351.8L660.0,350.0L660.9,348.2L661.8,346.4L662.6,344.6L663.5,342.8L664.4,341.0L665.3,339.2L666.2,337.5L667.1,335.7L668.0,333.9L669.0,332.2L669.9,330.4L670.9,328.7L671.9,326.9L672.8,325.2L673.8,323.5L674.8,321.7L675.9,320.0L676.9,318.3L678.0,316.6L679.0,314.9L680.1,313.2L681.2,311.5L682.3,309.8L683.4,308.2L684.5,306.5L685.7,304.8L686.8,303.2L688.0,301.5L689.2,299.9L690.4,298.3L691.7,296.7L693.0,295.2L694.3,293.6L695.6,292.1L696.9,290.7L698.3,289.2L699.7,287.8L701.2,286.4L702.7,285.1L704.2,283.8L705.7,282.6L707.3,281.4L709.0,280.2L710.6,279.1L712.3,278.0L714.1,277.0L715.8,276.0L717.6,275.0L719.4,274.1L721.2,273.2L723.0,272.4L724.9,271.5L726.8,270.7L728.6,269.9L730.5,269.2L732.4,268.5L734.3,267.8L736.2,267.1L738.1,266.4L740.0,265.8L741.9,265.2L743.8,264.6L745.7,264.0L747.6,263.4L749.5,262.9L751.4,262.3L753.4,261.8L755.3,261.3L757.2,260.8L759.1,260.3L761.1,259.8L763.0,259.4L764.9,258.9L766.9,258.5L768.8,258.0L770.7,257.6L772.7,257.2L774.6,256.8L776.6,256.4L778.5,256.0L780.4,255.6L782.4,255.2L784.3,254.8L786.3,254.4L788.2,254.0L790.2,253.6L792.1,253.2L794.1,252.8L796.1,252.4L798.0,252.0L800.0,251.6L801.9,251.2L803.9,250.8L805.8,250.3L807.8,249.9L809.8,249.5L811.7,249.1L813.7,248.7L815.7,248.3L817.6,247.9L819.6,247.5L821.6,247.1L823.5,246.7L825.5,246.3L827.5,245.9L829.4,245.5L831.4,245.2L833.4,244.8L835.3,244.4L837.3,244.0L839.3,243.6L841.3,243.3L843.2,242.9L845.2,242.5L847.2,242.2L849.2,241.8L851.1,241.5L853.1,241.2L855.1,240.8L857.1,240.5L859.1,240.2L861.0,239.9L863.0,239.6L865.0,239.3L867.0,239.0L869.0,238.7L870.9,238.4L872.9,238.1L874.9,237.9L876.9,237.6L878.9,237.4L880.9,237.2L882.8,236.9L884.8,236.7L886.8,236.5L888.8,236.3L890.8,236.1L892.8,236.0L894.8,235.8L896.7,235.7L898.7,235.5L900.7,235.4L902.7,235.3L904.7,235.2L906.7,235.1L908.7,235.0L910.6,235.0L912.6,234.9L914.6,234.9L916.6,234.9L918.6,234.8L920.6,234.9L922.6,234.9L924.6,234.9L926.5,235.0L928.5,235.0L930.5,235.1L932.5,235.2L934.5,235.3L936.5,235.5L938.5,235.6L940.5,235.8L942.4,235.9L944.4,236.1L946.4,236.4L948.4,236.6L950.4,236.8L952.4,237.1L954.4,237.4L956.4,237.7L958.3,238.0L960.3,238.3L962.3,238.6L964.3,238.9L966.3,239.2L968.3,239.5L970.3,239.9L972.3,240.2L974.2,240.5L976.2,240.8L978.2,241.1L980.2,241.5L982.2,241.8L984.2,242.1L986.2,242.3L988.2,242.6L990.2,242.9L992.2,243.2L994.2,243.4L996.1,243.6L998.1,243.8L1000.1,244.0L1002.1,244.2L1004.1,244.3L1006.1,244.5L1008.1,244.6L1010.1,244.7L1012.1,244.7L1014.1,244.8L1016.1,244.8L1018.1,244.8L1020.1,244.8L1022.1,244.7L1024.1,244.7L1026.1,244.6L1028.1,244.5L1030.1,244.4L1032.1,244.3L1034.1,244.1L1036.1,244.0L1038.1,243.8L1040.0,243.6L1042.0,243.5L1044.0,243.3L1046.0,243.0L1048.0,242.8L1050.0,242.6L1052.0,242.3L1054.0,242.1L1056.0,241.8L1057.9,241.6L1059.9,241.3L1061.9,241.0L1063.9,240.7L1065.9,240.4L1067.8,240.1L1069.8,239.8L1071.8,239.5L1073.8,239.2L1075.7,238.9L1077.7,238.6L1079.7,238.3L1081.6,238.0L1083.6,237.7L1085.6,237.3L1087.5,237.0L1089.5,236.7L1091.4,236.4L1093.4,236.1L1095.4,235.8L1097.3,235.5L1099.3,235.2L1101.3,234.9L1103.2,234.6L1105.2,234.3L1107.1,234.0L1109.1,233.7L1111.1,233.4L1113.0,233.2L1115.0,232.9L1117.0,232.6L1118.9,232.4L1120.9,232.1L1122.9,231.9L1124.9,231.7L1126.8,231.5L1128.8,231.3L1130.8,231.1L1132.8,230.9L1134.8,230.7L1136.8,230.5L1138.8,230.4L1140.7,230.2L1142.7,230.1L1144.7,230.0L1146.8,229.9L1148.8,229.8L1150.8,229.7L1152.8,229.7L1154.8,229.6L1156.8,229.6L1158.8,229.6L1160.9,229.6L1162.9,229.6L1164.9,229.6L1167.0,229.7L1169.0,229.7L1171.1,229.8L1173.1,229.9L1175.1,229.9L1177.2,230.0L1179.2,230.1L1181.3,230.2L1183.3,230.2L1185.4,230.3L1187.4,230.4L1189.4,230.4L1191.5,230.5L1193.5,230.5L1195.5,230.6L1197.5,230.6L1199.5,230.6L1201.5,230.5L1203.5,230.5L1205.5,230.4L1207.5,230.4L1209.5,230.2L1211.5,230.1L1213.4,230.0L1215.4,229.8L1217.3,229.5L1219.3,229.3L1221.2,229.0L1223.1,228.7L1225.0,228.3L1226.9,228.0L1228.8,227.5L1230.7,227.1L1232.6,226.6L1234.4,226.1L1236.3,225.6L1238.2,225.1L1240.0,224.5L1241.9,224.0L1243.7,223.4L1245.6,222.8L1247.4,222.1L1249.3,221.5L1251.1,220.8L1253.0,220.1L1254.8,219.5L1256.7,218.8L1258.6,218.1L1260.4,217.4L1262.3,216.7L1264.2,216.0L1266.1,215.2L1268.0,214.5L1269.9,213.8L1271.8,213.1L1273.7,212.4L1275.7,211.7L1277.6,211.0L1279.6,210.3L1281.5,209.6L1283.5,208.9L1285.5,208.2L1287.5,207.6L1289.5,207.0L1291.5,206.4L1293.5,205.8L1295.5,205.2L1297.6,204.7L1299.6,204.1L1301.6,203.7L1303.6,203.2L1305.6,202.8L1307.6,202.4L1309.7,202.1L1311.7,201.8L1313.7,201.5L1315.7,201.3L1317.7,201.1L1319.7,201.0L1321.6,200.9L1323.6,200.9L1325.6,200.9L1327.5,201.0L1329.4,201.1L1331.4,201.4L1333.3,201.6L1335.2,202.0L1337.0,202.4L1338.9,202.8L1340.7,203.4L1342.6,204.0L1344.4,204.6L1346.2,205.3L1347.9,206.1L1349.7,206.9L1351.5,207.8L1353.2,208.8L1354.9,209.7L1356.6,210.8L1358.3,211.8L1360.0,212.9L1361.6,214.0L1363.2,215.2L1364.9,216.4L1366.5,217.6L1368.1,218.9L1369.7,220.2L1371.3,221.5L1372.8,222.8L1374.4,224.1L1375.9,225.4L1377.4,226.8L1379.0,228.1L1380.5,229.5L1382.0,230.9L1383.4,232.2L1384.9,233.6L1386.4,234.9L1387.8,236.3L1389.3,237.6L1390.7,239.0L1392.1,240.3L1393.5,241.6L1395.0,243.0L1396.4,244.3L1397.8,245.7L1399.2,247.0L1400.6,248.4L1402.0,249.8L1403.3,251.1L1404.7,252.5L1406.1,253.9L1407.5,255.4L1408.9,256.8L1410.3,258.2L1411.7,259.7L1413.1,261.2L1414.5,262.6L1415.9,264.1L1417.3,265.6L1418.7,267.1L1420.1,268.6L1421.5,270.0L1422.9,271.5L1424.4,273.0L1425.8,274.4L1427.3,275.9L1428.8,277.3L1430.2,278.8L1431.7,280.2L1433.2,281.6L1434.8,282.9L1436.3,284.3L1437.8,285.6L1439.4,286.9L1441.0,288.2L1442.6,289.4L1444.2,290.6L1445.8,291.8L1447.5,293.0L1449.2,294.1L1450.8,295.2L1452.6,296.2L1454.3,297.2L1456.1,298.1L1457.8,299.0L1459.6,299.9L1461.5,300.7L1463.3,301.4L1465.1,302.1L1467.0,302.8L1468.9,303.4L1470.8,303.9L1472.7,304.4L1474.6,304.8L1476.5,305.2L1478.4,305.5L1480.3,305.7L1482.3,305.9L1484.2,306.0L1486.1,306.0L1488.0,306.0L1489.9,305.9L1491.8,305.7L1493.7,305.5L1495.6,305.1L1497.5,304.7L1499.4,304.3L1501.2,303.7L1503.1,303.1L1504.9,302.4L1506.7,301.6L1508.5,300.7L1510.2,299.7L1512.0,298.7L1513.7,297.5L1515.4,296.3L1517.1,295.0L1518.7,293.7L1520.4,292.3L1522.0,290.9L1523.6,289.5L1525.2,288.0L1526.8,286.6L1528.3,285.1L1529.9,283.6L1531.4,282.2L1532.9,280.7L1534.5,279.3L1536.0,278.0L1537.5,276.7L1539.0,275.4L1540.5,274.2L1542.0,273.1L1543.5,272.1L1545.0,271.2" fill="none" stroke="#000" stroke-width="8.5" stroke-dasharray="10.50 20.20" stroke-dashoffset="-8.46" stroke-linecap="round"/>
<g fill="#000" stroke="#fff" stroke-width="2" paint-order="stroke"><path d="M259.5,151.9L274.5,176.9L244.5,176.9Z"/><path d="M244.5,300.2L274.5,300.2L259.5,325.2Z"/><path d="M377.6,329.5L392.6,354.5L362.6,354.5Z"/><path d="M362.6,574.5L392.6,574.5L377.6,599.5Z"/><path d="M508.6,467.6L523.6,492.6L493.6,492.6Z"/><path d="M493.6,802.3L523.6,802.3L508.6,827.3Z"/><path d="M656.8,257.5L671.8,282.5L641.8,282.5Z"/><path d="M641.8,432.0L671.8,432.0L656.8,457.0Z"/><path d="M825.8,166.0L840.8,191.0L810.8,191.0Z"/><path d="M810.8,302.5L840.8,302.5L825.8,327.5Z"/><path d="M1018.5,176.4L1033.5,201.4L1003.5,201.4Z"/><path d="M1003.5,288.0L1033.5,288.0L1018.5,313.0Z"/><path d="M1243.3,159.0L1258.3,184.0L1228.3,184.0Z"/><path d="M1228.3,267.7L1258.3,267.7L1243.3,292.7Z"/><path d="M1506.0,240.2L1521.0,265.2L1491.0,265.2Z"/><path d="M1491.0,336.2L1521.0,336.2L1506.0,361.2Z"/></g>
</g>
<g stroke="#000" fill="none" stroke-linecap="butt">
<path d="M258,57V1023.5" stroke-width="4"/>
<path d="M256,1002.5H1538.0" stroke-width="4.8"/>
<path d="M237.0,59.0H258.0 M237.0,373.5H258.0 M237.0,688.0H258.0 M237.0,1002.5H258.0 M247.0,216.2H258.0 M247.0,530.8H258.0 M247.0,845.2H258.0 M258.0,1002.5V1023.5 M513.5,1002.5V1023.5 M769.0,1002.5V1023.5 M1024.5,1002.5V1023.5 M1280.0,1002.5V1023.5 M1535.5,1002.5V1023.5 M385.8,1002.5V1013.5 M641.2,1002.5V1013.5 M896.8,1002.5V1013.5 M1152.2,1002.5V1013.5 M1407.8,1002.5V1013.5" stroke-width="4.6"/>
</g>
<g font-size="51">
<text transform="translate(225.5,73.2) scale(1,1.035)" text-anchor="end">0.00</text>
<text transform="translate(225.5,387.7) scale(1,1.035)" text-anchor="end">-0.02</text>
<text transform="translate(225.5,702.2) scale(1,1.035)" text-anchor="end">-0.04</text>
<text transform="translate(225.5,1016.7) scale(1,1.035)" text-anchor="end">-0.06</text>

</g>
<g font-size="51">
<text transform="translate(258.0,1074.7) scale(1,1.035)" text-anchor="middle">8</text>
<text transform="translate(513.5,1074.7) scale(1,1.035)" text-anchor="middle">9</text>
<text transform="translate(769.0,1074.7) scale(1,1.035)" text-anchor="middle">10</text>
<text transform="translate(1024.5,1074.7) scale(1,1.035)" text-anchor="middle">11</text>
<text transform="translate(1280.0,1074.7) scale(1,1.035)" text-anchor="middle">12</text>
<text transform="translate(1535.5,1074.7) scale(1,1.035)" text-anchor="middle">13</text>

</g>
<text x="702.8 753.8 777.6 805.3 829.8 846.0 869.6 896.7 925.1 940.0 967.1 983.1 1000.5 1029.8 1072.3" y="0" font-size="54.3" transform="translate(0,1159.0) scale(1,1.000)">Wavelength (&#181;m)</text>
<text transform="translate(74.6,749.7) rotate(-90)"><tspan x="-2.1 33.1 66.7 80.6 100.7 151.0 169.5" y="0.0" font-size="55">&#916;L (W&#183;m</tspan><tspan x="212.6 223.6" y="-26.3" font-size="33.5">-2</tspan><tspan x="241.0 269.7" y="0.0" font-size="55">&#956;m</tspan><tspan x="313.5 325.9" y="-26.3" font-size="33.5">-1</tspan><tspan x="341.1 360.8 380.7" y="0.0" font-size="55">&#183;sr</tspan><tspan x="400.8 411.2" y="-26.3" font-size="33.5">-1</tspan><tspan x="427.0" y="0.0" font-size="55">)</tspan></text>
<g stroke="#000" stroke-width="5.2" fill="none" stroke-linecap="round">
<path d="M1054.4,772.5H1177.5"/>
<path d="M1054.4,840.8H1177.5"/>
<path d="M1053.9,910H1178.1" stroke-width="8.2" stroke-dasharray="11.1 19.5"/>
</g>
<g fill="#000" stroke="#fff" stroke-width="2" paint-order="stroke">
<path d="M1100.5,763.9L1130.5,763.9L1115.5,788.9Z"/>
<path d="M1115.5,824.4L1130.5,849.4L1100.5,849.4Z"/>
</g>
<text x="1192.3 1211.3 1239.7 1268.7 1296.8 1316.5" y="0" font-size="55" transform="translate(0,792.0) scale(1,1.000)">sy20-1</text>
<text x="1192.3 1211.3 1239.7 1268.7 1296.8 1315.5" y="0" font-size="55" transform="translate(0,859.8) scale(1,1.000)">sy20-5</text>
<text x="1192.4 1232.1 1259.6 1283.1 1303.2 1327.0 1354.7 1379.1 1392.8 1421.4 1439.7 1453.0 1487.3" y="0" font-size="55" transform="translate(0,928.8) scale(1,1.000)">Average of &#916;L</text>
</svg>
</body></html>
